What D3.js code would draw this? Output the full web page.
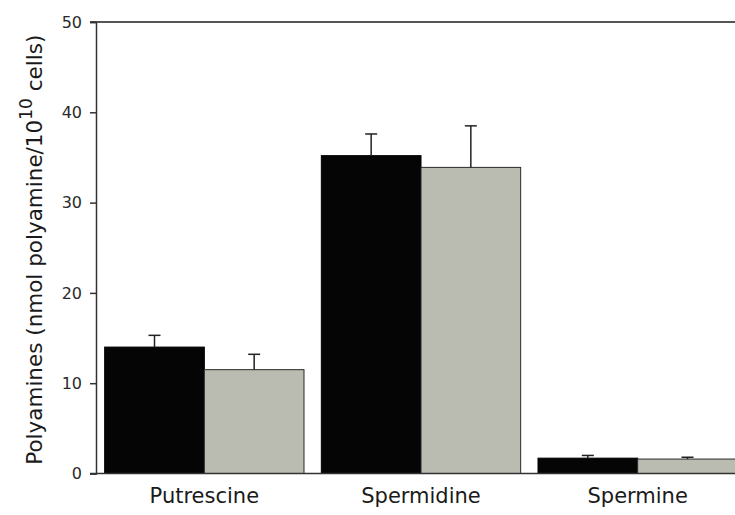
<!DOCTYPE html>
<html>
<head>
<meta charset="utf-8">
<script src="https://cdn.jsdelivr.net/npm/d3@7"></script>
<style>
  html, body { margin: 0; padding: 0; background: #fff; }
  svg { display: block; }
</style>
</head>
<body>
<svg id="chart" width="735" height="515"></svg>
<script>
// Polyamine content per 10^10 cells, two strains per polyamine
const categories = ["Putrescine", "Spermidine", "Spermine"];
const seriesNames = ["A", "B"];
const seriesA = [14.0, 35.2, 1.7];
const seriesB = [11.5, 33.9, 1.6];
const errorA = [1.3, 2.4, 0.3];
const errorB = [1.7, 4.6, 0.2];
const yTicks = [0, 10, 20, 30, 40, 50];

const svg = d3.select("#chart");
const W = 735, H = 515;
const axisX = 96, yTop = 22, yBottom = 473.5;
const font = "DejaVu Sans, Verdana, sans-serif";

const x = d3.scaleBand().domain(categories)
  .range([axisX, 746]).paddingInner(0.08).paddingOuter(0.04);
const xs = d3.scaleBand().domain(seriesNames).range([0, x.bandwidth()]);
const y = d3.scaleLinear().domain([0, 50]).range([yBottom, yTop]);

const rows = categories.map((c, i) => ({
  cat: c,
  vals: [
    { s: "A", v: seriesA[i], e: errorA[i] },
    { s: "B", v: seriesB[i], e: errorB[i] }
  ]
}));
const fill = { A: "#050505", B: "#babbb1" };
const edge = { A: "#000", B: "#2a2a2a" };

const plot = svg.append("g");

const groups = plot.selectAll("g.grp").data(rows).join("g")
  .attr("class", "grp")
  .attr("transform", d => `translate(${x(d.cat)},0)`);

groups.selectAll("rect").data(d => d.vals).join("rect")
  .attr("x", d => xs(d.s))
  .attr("y", d => y(d.v))
  .attr("width", xs.bandwidth())
  .attr("height", d => y(0) - y(d.v))
  .attr("fill", d => fill[d.s])
  .attr("stroke", d => edge[d.s])
  .attr("stroke-width", 1);

// upper error whiskers
const capHalf = 6;
groups.selectAll("line.err").data(d => d.vals).join("line")
  .attr("class", "err")
  .attr("x1", d => xs(d.s) + xs.bandwidth() / 2)
  .attr("x2", d => xs(d.s) + xs.bandwidth() / 2)
  .attr("y1", d => y(d.v))
  .attr("y2", d => y(d.v + d.e))
  .attr("stroke", "#222").attr("stroke-width", 1.5);
groups.selectAll("line.cap").data(d => d.vals).join("line")
  .attr("class", "cap")
  .attr("x1", d => xs(d.s) + xs.bandwidth() / 2 - capHalf)
  .attr("x2", d => xs(d.s) + xs.bandwidth() / 2 + capHalf)
  .attr("y1", d => y(d.v + d.e))
  .attr("y2", d => y(d.v + d.e))
  .attr("stroke", "#222").attr("stroke-width", 1.5);

// top frame line and baseline
svg.append("line").attr("x1", 90).attr("x2", W).attr("y1", y(50)).attr("y2", y(50))
  .attr("stroke", "#555").attr("stroke-width", 2);
svg.append("line").attr("x1", 90).attr("x2", W).attr("y1", y(0)).attr("y2", y(0))
  .attr("stroke", "#333").attr("stroke-width", 1.5);

// y axis
const yAxis = d3.axisLeft(y).tickValues(yTicks).tickSize(6).tickPadding(8);
const gy = svg.append("g").attr("transform", `translate(${axisX},0)`).call(yAxis);
gy.select(".domain").attr("stroke", "#333").attr("stroke-width", 1.5);
gy.selectAll(".tick line").attr("stroke", "#333").attr("stroke-width", 1.5);
gy.selectAll(".tick text")
  .attr("font-family", font)
  .attr("font-size", 16).attr("fill", "#2a2a2a");

// category labels
const xAxis = d3.axisBottom(x).tickSize(0).tickPadding(15);
const gx = svg.append("g").attr("transform", `translate(0,${y(0)})`).call(xAxis);
gx.select(".domain").remove();
gx.selectAll(".tick text")
  .attr("font-family", font)
  .attr("font-size", 21).attr("fill", "#1a1a1a");

// y axis title with superscript exponent
const title = svg.append("text")
  .attr("transform", `translate(42,${(yTop + yBottom) / 2 + 2}) rotate(-90)`)
  .attr("text-anchor", "middle")
  .attr("font-family", font)
  .attr("font-size", 21.5).attr("fill", "#1a1a1a");
title.append("tspan").text("Polyamines (nmol polyamine/10");
title.append("tspan").attr("baseline-shift", "super").attr("font-size", 17).text("10");
title.append("tspan").text(" cells)");
</script>
</body>
</html>
